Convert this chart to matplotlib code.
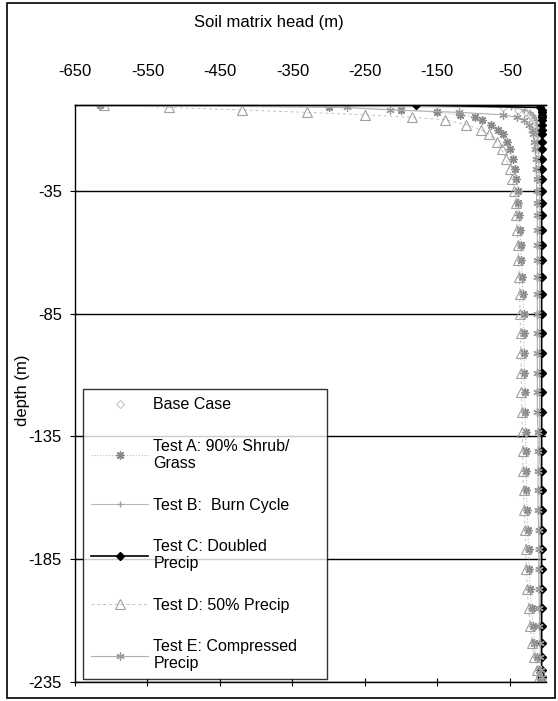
import matplotlib
matplotlib.use('Agg')
import matplotlib.pyplot as plt
from matplotlib.patches import Rectangle

plt.rcParams['font.family'] = ['Liberation Sans', 'DejaVu Sans']

# depth of the model nodes (m)
depth_m = [0, -1, -2, -3, -4, -5, -6, -8, -10, -12, -15, -18, -22, -26, -30,
           -35, -40, -45, -51, -57, -63, -70, -77, -85, -93, -101, -109, -117,
           -125, -133, -141, -149, -157, -165, -173, -181, -189, -197, -205,
           -212, -219, -225, -230, -233, -235]

# soil matrix head (m) for each run
base_case = [-615, -60, -38, -28, -22, -19, -17, -15, -14, -13, -12, -12, -11, -11, -11,
             -10, -10, -10, -10, -10, -10, -10, -10, -10, -10, -10, -10, -10,
             -10, -10, -10, -10, -9, -9, -9, -9, -9, -9, -8,
             -8, -8, -7, -7, -6, -5]
test_a = [-615, -300, -200, -150, -118, -98, -88, -76, -66, -60, -54, -49, -46, -43, -41,
          -39, -38, -37, -36, -35, -34, -33, -32, -31, -31, -30, -30, -29,
          -29, -28, -28, -27, -27, -26, -25, -24, -23, -22, -20,
          -18, -16, -13, -10, -8, -5]
test_b = [-615, -48, -30, -22, -18, -16, -14, -13, -12, -11, -11, -10, -10, -10, -9,
          -9, -9, -9, -9, -9, -9, -9, -9, -9, -9, -9, -9, -9,
          -9, -9, -9, -8, -8, -8, -8, -8, -8, -8, -7,
          -7, -7, -6, -6, -5, -5]
test_c = [-180, -8, -6, -6, -6, -6, -6, -6, -6, -6, -6, -6, -6, -6, -6,
          -6, -6, -6, -6, -6, -6, -6, -6, -6, -6, -6, -6, -6,
          -6, -6, -6, -6, -6, -6, -6, -6, -6, -6, -6,
          -6, -6, -6, -6, -5, -5]
test_d = [-610, -520, -420, -330, -250, -185, -140, -110, -90, -78, -68, -61, -55, -50, -47,
          -44, -42, -41, -40, -39, -38, -37, -36, -36, -35, -35, -34, -34,
          -33, -33, -32, -32, -31, -30, -29, -28, -27, -26, -24,
          -22, -19, -16, -12, -9, -6]
test_e = [-615, -275, -215, -120, -60, -40, -30, -24, -20, -18, -16, -15, -14, -14, -13,
          -13, -13, -12, -12, -12, -12, -12, -12, -12, -12, -12, -12, -12,
          -12, -11, -11, -11, -11, -11, -10, -10, -10, -10, -9,
          -9, -8, -8, -7, -6, -5]

x_ticks = [-650, -550, -450, -350, -250, -150, -50]
y_ticks = [-35, -85, -135, -185, -235]

fig = plt.figure(figsize=(5.58, 7.01), dpi=100)
ax = fig.add_axes([75 / 558, 1 - 682 / 701, 471 / 558, 577 / 701])

ax.plot(base_case, depth_m, ls='none', marker='D', ms=4, mfc='none', mec='#c4c4c4',
        mew=0.8, label='Base Case')
ax.plot(test_a, depth_m, ls=':', lw=0.8, color='#bdbdbd', marker=(8, 2, 0), ms=6,
        mec='#8a8a8a', mew=1.0, label='Test A: 90% Shrub/\nGrass')
ax.plot(test_b, depth_m, ls='-', lw=0.8, color='#b8b8b8', marker='+', ms=4,
        mec='#a0a0a0', label='Test B:  Burn Cycle')
ax.plot(test_c, depth_m, ls='-', lw=1.2, color='black', marker='D', ms=4.5,
        mfc='black', mec='black', label='Test C: Doubled\nPrecip')
ax.plot(test_d, depth_m, ls=(0, (3, 3)), lw=0.7, color='#c0c0c0', marker='^', ms=7,
        mfc='none', mec='#a0a0a0', mew=0.8, label='Test D: 50% Precip')
ax.plot(test_e, depth_m, ls='-', lw=0.8, color='#b0b0b0', marker=(6, 2, 0), ms=6,
        mec='#9a9a9a', mew=0.9, label='Test E: Compressed\nPrecip')

ax.set_xlim(-650, 0)
ax.set_ylim(-235, 0)
ax.set_yticks(y_ticks)
ax.set_yticklabels([str(v) for v in y_ticks], fontsize=12)
ax.set_xticks(x_ticks)
ax.set_xticklabels([])
ax.tick_params(axis='x', direction='inout', length=6, width=0.8)
ax.tick_params(axis='y', direction='inout', length=7, width=0.8, pad=6)
ax.grid(axis='y', color='black', lw=1.0)
for s in ['left', 'bottom', 'top']:
    ax.spines[s].set_linewidth(1.0)
ax.spines['right'].set_visible(False)

top = ax.secondary_xaxis('top')
top.set_xticks(x_ticks)
top.set_xticklabels([str(v) for v in x_ticks], fontsize=12)
top.tick_params(length=0, pad=19)
top.spines['top'].set_linewidth(1.0)

fig.text(269 / 558, 1 - 22 / 701, 'Soil matrix head (m)', ha='center', va='center',
         fontsize=12)
fig.text(22 / 558, 1 - 390 / 701, 'depth (m)', ha='center', va='center',
         rotation=90, fontsize=12)

leg = ax.legend(loc='upper left', bbox_to_anchor=(0.017, 0.01, 0.518, 0.497),
                mode='expand', fontsize=11.5, frameon=True, fancybox=False,
                edgecolor='black', handlelength=3.6, handletextpad=0.3,
                labelspacing=1.65, borderpad=0.5, borderaxespad=0)
leg.get_frame().set_linewidth(1.0)

fig.patches.append(Rectangle((7 / 558, 3 / 701), 548 / 558, 695 / 701, fill=False,
                             edgecolor='black', lw=1.2, transform=fig.transFigure))

fig.savefig('out.png', dpi=100)
